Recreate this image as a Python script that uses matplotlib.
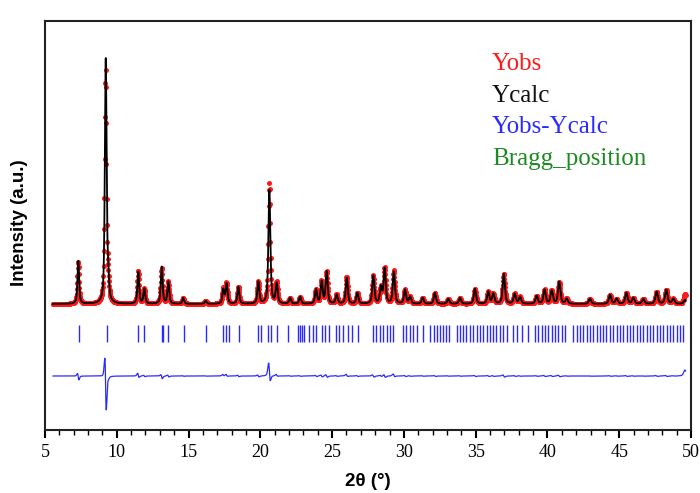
import numpy as np
import matplotlib.pyplot as plt
from matplotlib.ticker import MultipleLocator

# reflections seen in the pattern: position (2theta), calculated and observed height
peak_pos = [7.32, 9.23, 9.40, 11.50, 11.92, 13.13, 13.59, 14.63, 16.19, 17.42,
            17.65, 18.47, 19.86, 20.63, 21.14, 22.07, 22.77, 23.88, 24.27, 24.62,
            25.32, 26.02, 26.76, 27.87, 28.40, 28.66, 29.30, 30.08, 30.43, 31.31,
            32.16, 33.09, 33.91, 34.95, 35.88, 36.23, 36.96, 37.72, 38.09, 39.25,
            39.80, 40.30, 40.82, 41.34, 42.96, 44.36, 44.82, 45.50, 45.98, 46.68,
            47.61, 48.28, 48.77, 49.58]
calc_h = [43, 244, 20, 32, 15, 37, 22, 6, 3, 14,
          20, 17, 22, 114, 20, 6, 7, 14, 22, 32,
          9, 26, 11, 28, 16, 35, 32, 14, 7, 6,
          11, 5, 6, 15, 12, 10, 30, 10, 7, 8,
          14, 13, 22, 5, 5, 9, 5, 11, 6, 5,
          12, 14, 5, 4]
obs_h = [42, 232, 20, 33, 15, 36, 22, 6, 3, 15,
         21, 17, 22, 120, 21, 6, 7, 14, 22, 32,
         9, 27, 11, 28, 16, 35, 33, 14, 7, 6,
         11, 5, 6, 15, 12, 10, 30, 10, 7, 8,
         14, 13, 22, 5, 5, 9, 5, 11, 6, 5,
         12, 14, 5, 10]
obs_shift = {7.32: -0.008, 9.23: -0.012, 11.50: -0.007, 13.13: -0.006, 20.63: -0.009}

bragg_pos = [7.39, 9.30, 11.50, 11.92, 13.13, 13.24, 13.59, 14.68, 16.19, 17.38,
             17.61, 17.84, 18.51, 19.86, 20.03, 20.56, 20.72, 21.19, 21.95, 22.65,
             22.78, 22.90, 23.01, 23.41, 23.65, 23.88, 24.27, 24.51, 24.81, 25.27,
             25.50, 25.74, 26.14, 26.37, 26.83,
             27.87, 28.08, 28.35, 28.56, 28.82, 29.03, 29.26,
             29.96, 30.17, 30.44, 30.66, 30.89, 31.36,
             31.82, 32.07, 32.29, 32.52, 32.72, 32.93, 33.16,
             33.68, 33.90, 34.14, 34.36, 34.61, 34.84,
             35.07, 35.31, 35.52, 35.77, 36.01, 36.23, 36.45, 36.70, 36.93, 37.16,
             37.63, 37.91, 38.21, 38.67,
             39.14, 39.36, 39.60, 39.83, 40.07, 40.29, 40.54, 40.77, 41.00, 41.23,
             41.80, 42.03, 42.27, 42.49, 42.73, 42.96, 43.20, 43.42, 43.66, 43.89,
             44.11, 44.36, 44.58, 44.82, 45.06, 45.29, 45.51, 45.75, 45.99, 46.22,
             46.44, 46.68, 46.91, 47.15, 47.38, 47.60, 47.84, 48.07, 48.30, 48.54,
             48.78, 49.00, 49.24, 49.47]

background = 1.0
diff_offset = -71
default_shift = -0.005


def profile(x, heights, shifts, base_shift=0.0):
    y = np.full_like(x, background)
    for p, h in zip(peak_pos, heights):
        w = 0.13 + 0.0015 * p
        d = (x - p - shifts.get(p, base_shift)) / (w / 2)
        y += h * (0.6 / (1 + d**2) + 0.4 * np.exp(-np.log(2) * d**2))
    return y


tt_obs = np.arange(5.56, 49.64, 0.02)
tt_calc = np.arange(5.56, 49.64, 0.004)
y_obs = profile(tt_obs, obs_h, obs_shift, default_shift)
y_calc = profile(tt_calc, calc_h, {})
diff = y_obs - profile(tt_obs, calc_h, {})

fig = plt.figure(figsize=(7, 4.93), dpi=100)
ax = fig.add_axes([45/700, 63/493, 646/700, 409/493])

ax.plot(tt_obs, y_obs, 'o', color='#ff1a1a', ms=3.6, mec='none')
ax.plot(tt_calc, y_calc, color='black', lw=1.3)
ax.vlines(bragg_pos, -37, -20, color='#2a2aff', lw=1.0)
ax.plot(tt_obs, diff + diff_offset, color='#2a2aff', lw=0.9)

ax.set_xlim(5, 50)
ax.set_ylim(-125, 284)
ax.set_yticks([])
ax.xaxis.set_major_locator(MultipleLocator(5))
ax.xaxis.set_minor_locator(MultipleLocator(1))
ax.tick_params(axis='x', which='major', length=6, width=1.5, direction='out',
               labelsize=13, pad=4)
ax.tick_params(axis='x', which='minor', length=3.5, width=1.0, direction='out')
for lab in ax.get_xticklabels():
    lab.set_fontfamily('Liberation Serif')
for sp in ax.spines.values():
    sp.set_linewidth(1.5)
    sp.set_color('#222222')

fig.text(368/700, 1 - 481/493, '2θ (°)', ha='center', va='center',
         family='Liberation Sans', weight='bold', fontsize=13.5)
fig.text(20/700, 1 - 223/493, 'Intensity (a.u.)', ha='center', va='center',
         rotation=90, family='Liberation Sans', weight='bold', fontsize=13.5)

legend_items = [('Yobs', '#ff1a1a'), ('Ycalc', '#111111'),
                ('Yobs-Ycalc', '#2a2aff'), ('Bragg_position', '#1e8b22')]
for i, (txt, col) in enumerate(legend_items):
    fig.text(492/700, 1 - (64 + 31.5 * i)/493, txt, color=col, ha='left',
             va='center', family='Liberation Serif', fontsize=18)

fig.savefig('out.png', dpi=100)
